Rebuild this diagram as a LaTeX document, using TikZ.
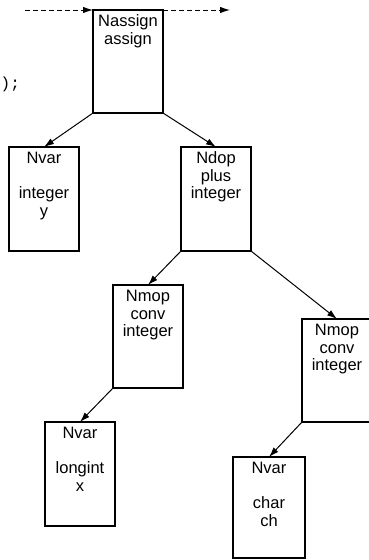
\documentclass[tikz,border=0pt]{standalone}
\usepackage{fontspec}
\setmainfont{Liberation Sans}
\newfontfamily\codefont{Liberation Mono}
\usetikzlibrary{arrows.meta}
\begin{document}
\begin{tikzpicture}[x=1pt,y=-1pt,
  box/.style={draw,line width=1.8pt,minimum width=70pt,minimum height=103pt,inner sep=0pt,outer sep=0pt,anchor=north west},
  lbl/.style={font=\fontsize{16.5}{17.5}\selectfont,align=center,inner sep=0pt,anchor=north},
  edge/.style={line width=1pt,-{Latex[length=10pt,width=6.5pt]}},
  flow/.style={edge,dash pattern=on 5pt off 3pt},
  code/.style={font=\codefont\fontsize{16}{18}\selectfont,inner sep=0pt,anchor=base west}]
\useasboundingbox (0,0) rectangle (369,560);
\fill[white] (0,0) rectangle (369,560);
% boxes
\node[box] (assign) at (93,10) {};
\node[box,minimum height=104pt] (var1) at (9,147) {};
\node[box,minimum height=104pt] (dop) at (181,147) {};
\node[box] (mop1) at (113,285) {};
\node[box] (mop2) at (302,319) {};
\node[box,minimum height=104pt] (var2) at (45,422) {};
\node[box,minimum width=72pt,minimum height=101pt] (var3) at (233,457) {};
% labels
\node[lbl] (assignT) at ([yshift=-4.3pt]assign.north) {\strut Nassign\\assign};
\node[lbl] (var1T) at ([yshift=-4.3pt]var1.north) {\strut Nvar\\[17.5pt]integer\\y};
\node[lbl] (dopT) at ([yshift=-4.3pt]dop.north) {\strut Ndop\\plus\\integer};
\node[lbl] (mop1T) at ([yshift=-4.3pt]mop1.north) {\strut Nmop\\conv\\integer};
\node[lbl] (mop2T) at ([yshift=-4.3pt]mop2.north) {\strut Nmop\\conv\\integer};
\node[lbl] (var2T) at ([yshift=-4.3pt]var2.north) {\strut Nvar\\[17.5pt]longint\\x};
\node[lbl] (var3T) at ([yshift=-4.3pt]var3.north) {\strut Nvar\\[17.5pt]char\\ch};
% code fragment
\node[code] (codeT) at (0.5,88) {);};
% connectors
\draw[edge] (assign.south west) -- (var1.north);
\draw[edge] (assign.south east) -- (dop.north);
\draw[edge] (dop.south west) -- (mop1.north);
\draw[edge] (dop.south east) -- (mop2.north);
\draw[edge] (mop1.south west) -- (var2.north);
\draw[edge] (mop2.south west) -- (var3.north);
% dashed flow
\coordinate (inL) at (25,10);
\coordinate (outR) at (230,10);
\draw[flow] (inL) -- (assign.north west);
\draw[flow] (assign.north east) -- (outR);
\end{tikzpicture}
\end{document}
